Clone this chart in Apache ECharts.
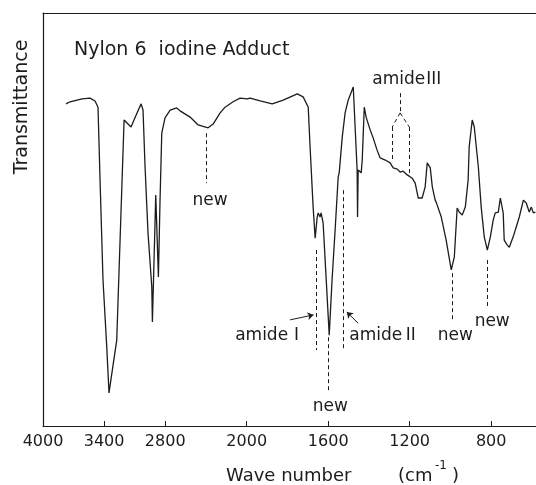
<!DOCTYPE html>
<html>
<head>
<meta charset="utf-8">
<script src="https://cdn.jsdelivr.net/npm/echarts@6/dist/echarts.min.js"></script>
<style>
  html, body { margin: 0; padding: 0; background: #fff; }
  #chart { width: 536px; height: 485px; }
</style>
</head>
<body>
<div id="chart"></div>
<script>
// IR spectrum of the nylon 6 / iodine adduct (wave number in cm^-1, transmittance in %)
const wavenumber = [
  3774, 3735, 3617, 3538, 3489, 3460, 3440, 3411, 3374, 3352, 3309, 3276,
  3204, 3194, 3136, 3077, 3037, 3018, 2998, 2969, 2932, 2926, 2893, 2867,
  2851, 2834, 2802, 2752, 2687, 2654, 2556, 2477, 2379, 2330, 2261, 2212,
  2134, 2065, 1998, 1983, 1934, 1875, 1821, 1752, 1723, 1698, 1689, 1674,
  1664, 1654, 1649, 1640, 1635, 1625, 1595, 1581, 1566, 1551, 1546, 1531,
  1517, 1502, 1477, 1458, 1456, 1453, 1438, 1433, 1423, 1414, 1394, 1379,
  1360, 1345, 1320, 1296, 1281, 1261, 1247, 1232, 1212, 1188, 1173, 1158,
  1139, 1124, 1114, 1099, 1089, 1075, 1070, 1045, 1021, 996, 981, 967,
  957, 942, 927, 913, 908, 893, 883, 863, 849, 834, 819, 804,
  790, 780, 765, 755, 741, 736, 721, 711, 692, 677, 662, 642,
  628, 613, 603, 593, 583
];
const transmittance = [
  78.0, 78.5, 79.2, 79.4, 78.7, 77.2, 59.6, 35.4, 19.1, 8.0, 15.3, 20.8,
  74.1, 74.3, 72.4, 75.8, 78.0, 76.5, 62.7, 46.7, 33.7, 25.2, 55.9, 36.1,
  54.7, 70.9, 74.6, 76.5, 77.0, 76.3, 74.8, 72.9, 72.2, 73.1, 75.8, 77.2,
  78.5, 79.4, 79.2, 79.4, 78.7, 78.0, 78.9, 80.4, 79.7, 77.2, 67.6, 53.0,
  45.5, 50.6, 51.6, 50.6, 51.6, 49.2, 22.0, 35.4, 47.5, 60.3, 61.3, 70.0,
  75.8, 78.9, 82.1, 62.0, 50.6, 62.0, 61.3, 64.4, 77.2, 74.8, 71.7, 69.7,
  66.8, 64.9, 64.4, 63.7, 62.5, 62.2, 61.5, 61.7, 60.8, 60.0, 58.8, 55.2,
  55.2, 57.9, 63.7, 62.5, 57.9, 54.7, 54.2, 50.6, 45.0, 37.8, 40.9, 52.8,
  51.8, 51.1, 53.0, 59.6, 67.6, 74.1, 72.4, 62.7, 53.0, 45.8, 42.6, 45.8,
  49.9, 51.6, 51.8, 55.2, 51.6, 45.0, 43.8, 43.3, 45.8, 48.2, 50.6, 54.7,
  54.0, 51.8, 53.0, 51.6, 51.8
];
const tickWavenumbers = [4000, 3400, 2800, 2000, 1600, 1200, 800];

// Band annotations: dashed guide segments [[wn, T], [wn, T]]
const guideSegments = [
  [[2400, 70.9], [2400, 58.8]],
  [[1659, 42.6], [1659, 18.4]],
  [[1600, 21.5], [1600, 8.0]],
  [[1527, 57.1], [1527, 18.4]],
  [[1247, 80.6], [1247, 75.8]],
  [[1247, 75.8], [1286, 72.4]],
  [[1247, 75.8], [1202, 72.4]],
  [[1286, 72.4], [1286, 63.9]],
  [[1202, 72.4], [1202, 60.8]],
  [[991, 37.0], [991, 25.2]],
  [[819, 40.2], [819, 28.6]]
];
// Curved pointer arrows [[from], [to], curveness]
const pointerArrows = [
  [[1787, 25.7], [1672, 26.9], -0.35],
  [[1453, 24.9], [1509, 27.6], 0.35]
];
// Text labels [wn, T, text, roman numeral]
const bandLabels = [
  [2360, 54.7, 'new', ''],
  [1885, 22.0, 'amide', 'Ⅰ'],
  [1590, 4.6, 'new', ''],
  [1325, 22.0, 'amide', 'Ⅱ'],
  [1212, 83.8, 'amide', 'Ⅲ'],
  [976, 22.0, 'new', ''],
  [795, 25.2, 'new', '']
];

// The wave-number scale doubles its spread below 2000 cm^-1
function toAxis(wn) { return wn >= 2000 ? (4000 - wn) / 2 : 3000 - wn; }
function fromAxis(u) { return u <= 1000 ? 4000 - 2 * u : 3000 - u; }

const FONT = 'DejaVu Sans';
const INK = '#1c1c1c';

const spectrum = wavenumber.map((w, i) => [toAxis(w), transmittance[i]]);
const tickPos = tickWavenumbers.map(toAxis);

const chart = echarts.init(document.getElementById('chart'), null, { renderer: 'canvas' });

chart.setOption({
  animation: false,
  backgroundColor: '#fff',
  grid: { left: 43, right: 0, top: 13, bottom: 59 },
  title: {
    text: 'Nylon 6  iodine Adduct',
    left: 69, top: 36,
    textStyle: { fontFamily: FONT, fontSize: 19, fontWeight: 'normal', color: INK }
  },
  xAxis: [{
    type: 'value',
    min: 0, max: toAxis(580),
    axisLine: { lineStyle: { color: INK, width: 1.2 } },
    axisTick: { show: true, inside: true, length: 5, customValues: tickPos, lineStyle: { color: INK } },
    axisLabel: {
      customValues: tickPos, showMinLabel: true, showMaxLabel: true,
      formatter: v => String(Math.round(fromAxis(v))),
      fontFamily: FONT, fontSize: 16, color: INK, margin: 8
    },
    splitLine: { show: false }
  }, {
    type: 'value', position: 'top',
    min: 0, max: toAxis(580),
    axisLine: { show: true, lineStyle: { color: INK, width: 1.2 } },
    axisTick: { show: false }, axisLabel: { show: false }, splitLine: { show: false }
  }],
  yAxis: {
    type: 'value', min: 0, max: 100,
    axisLine: { show: true, lineStyle: { color: INK, width: 1.2 } },
    axisTick: { show: false }, axisLabel: { show: false }, splitLine: { show: false }
  },
  graphic: [
    { type: 'text', x: 22, y: 107, rotation: Math.PI / 2,
      style: { text: 'Transmittance', fontFamily: FONT, fontSize: 19, fill: INK, align: 'center', verticalAlign: 'middle' } },
    { type: 'text', x: 226, y: 476,
      style: { text: 'Wave number', fontFamily: FONT, fontSize: 18, fill: INK, align: 'left', verticalAlign: 'middle' } },
    { type: 'text', x: 398, y: 476,
      style: { text: '(cm', fontFamily: FONT, fontSize: 18, fill: INK, align: 'left', verticalAlign: 'middle' } },
    { type: 'text', x: 435, y: 466,
      style: { text: '-1', fontFamily: FONT, fontSize: 12, fill: INK, align: 'left', verticalAlign: 'middle' } },
    { type: 'text', x: 452, y: 476,
      style: { text: ')', fontFamily: FONT, fontSize: 18, fill: INK, align: 'left', verticalAlign: 'middle' } }
  ],
  series: [{
    type: 'line',
    data: spectrum,
    showSymbol: false,
    silent: true,
    lineStyle: { color: INK, width: 1.3 },
    markLine: {
      silent: true,
      symbol: 'none',
      label: { show: false },
      lineStyle: { color: INK, type: [4, 3], width: 1 },
      data: guideSegments.map(seg => [
        { coord: [toAxis(seg[0][0]), seg[0][1]] },
        { coord: [toAxis(seg[1][0]), seg[1][1]] }
      ])
    }
  }, {
    type: 'line',
    data: [],
    silent: true,
    markLine: {
      silent: true,
      symbol: ['none', 'arrow'],
      symbolSize: 6,
      label: { show: false },
      data: pointerArrows.map(a => [
        { coord: [toAxis(a[0][0]), a[0][1]], lineStyle: { color: INK, width: 1, type: 'solid', curveness: a[2] } },
        { coord: [toAxis(a[1][0]), a[1][1]] }
      ])
    }
  }, {
    type: 'scatter',
    silent: true,
    symbolSize: 1,
    itemStyle: { color: 'rgba(0,0,0,0)' },
    label: {
      show: true, position: 'inside',
      formatter: p => p.data[3] ? p.data[2] + '{r|' + p.data[3] + '}' : p.data[2],
      fontFamily: FONT, fontSize: 17, color: INK,
      textBorderWidth: 0, opacity: 1,
      rich: {
        r: { fontFamily: 'Noto Sans CJK JP', fontSize: 17, color: INK, textBorderWidth: 0, padding: [0, 0, 4, 0] }
      }
    },
    data: bandLabels.map(l => [toAxis(l[0]), l[1], l[2], l[3]])
  }]
});
</script>
</body>
</html>
